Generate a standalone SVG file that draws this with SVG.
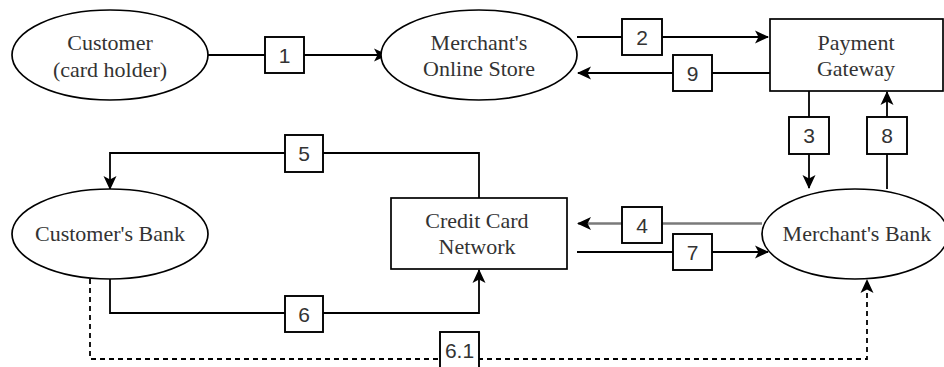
<svg xmlns="http://www.w3.org/2000/svg" width="944" height="367" viewBox="0 0 944 367">
  <defs>
    <marker id="arrow" viewBox="0 0 14 14" refX="13" refY="7" markerWidth="14" markerHeight="14" markerUnits="userSpaceOnUse" orient="auto">
      <path d="M0,0.5 L14,7 L0,13.5 L3.5,7 z" fill="#000"/>
    </marker>
    <style>
      .node { fill: #fff; stroke: #000; stroke-width: 1.7; }
      .label { font-family: "Liberation Serif", "Times New Roman", serif; font-size: 22px; fill: #333; text-anchor: middle; }
      .edge { fill: none; stroke: #000; stroke-width: 1.8; }
      .dashed { stroke-dasharray: 5 4; }
      .tag rect { fill: #fff; stroke: #000; stroke-width: 1.9; }
      .tag text { font-family: "Liberation Sans", Arial, sans-serif; font-size: 21px; fill: #333; text-anchor: middle; }
    </style>
  </defs>

  <rect width="944" height="367" fill="#fff"/>

  <!-- connectors -->
  <g id="connectors">
    <path id="e1" class="edge" d="M208,55 H387" marker-end="url(#arrow)"/>
    <path id="e2" class="edge" d="M577,37 H768" marker-end="url(#arrow)"/>
    <path id="e9" class="edge" d="M770,73 H578" marker-end="url(#arrow)"/>
    <path id="e3" class="edge" d="M809,91 V188" marker-end="url(#arrow)"/>
    <path id="e8" class="edge" d="M887,189 V92" marker-end="url(#arrow)"/>
    <path id="e4" class="edge" d="M762,223.5 H578" style="stroke:#7a7a7a;stroke-width:2.6" marker-end="url(#arrow)"/>
    <path id="e7" class="edge" d="M577,252 H768" marker-end="url(#arrow)"/>
    <path id="e5" class="edge" d="M479,198 V153 H110 V189" marker-end="url(#arrow)"/>
    <path id="e6" class="edge" d="M110,279 V313 H479 V270" marker-end="url(#arrow)"/>
    <path id="e61" class="edge dashed" d="M90,279 V359 H867 V280" marker-end="url(#arrow)"/>

    <g class="tag" id="t1"><rect x="265" y="37" width="39" height="36"/><text x="284.5" y="63">1</text></g>
    <g class="tag" id="t2"><rect x="622" y="19" width="40" height="36"/><text x="642" y="45">2</text></g>
    <g class="tag" id="t9"><rect x="673" y="55" width="39" height="36"/><text x="692.5" y="81">9</text></g>
    <g class="tag" id="t3"><rect x="789" y="117" width="40" height="37"/><text x="809" y="143">3</text></g>
    <g class="tag" id="t8"><rect x="867" y="117" width="40" height="37"/><text x="887" y="143">8</text></g>
    <g class="tag" id="t4"><rect x="622" y="207" width="40" height="36"/><text x="642" y="233">4</text></g>
    <g class="tag" id="t7"><rect x="673" y="234" width="39" height="36"/><text x="692.5" y="260">7</text></g>
    <g class="tag" id="t5"><rect x="285" y="135" width="38" height="37"/><text x="304" y="161">5</text></g>
    <g class="tag" id="t6"><rect x="285" y="296" width="38" height="36"/><text x="304" y="322">6</text></g>
    <g class="tag" id="t61"><rect x="440" y="332" width="39" height="38"/><text x="459.5" y="358">6.1</text></g>
  </g>

  <!-- nodes -->
  <g id="customer">
    <ellipse class="node" cx="110" cy="55" rx="98" ry="45"/>
    <text class="label" x="110" y="50">Customer</text>
    <text class="label" x="110" y="77">(card holder)</text>
  </g>
  <g id="online-store">
    <ellipse class="node" cx="479" cy="55" rx="98" ry="45"/>
    <text class="label" x="479" y="50">Merchant's</text>
    <text class="label" x="479" y="76">Online Store</text>
  </g>
  <g id="payment-gateway">
    <rect class="node" x="770" y="19" width="173" height="72"/>
    <text class="label" x="856" y="50">Payment</text>
    <text class="label" x="856" y="76">Gateway</text>
  </g>
  <g id="merchants-bank">
    <ellipse class="node" cx="855" cy="234" rx="93" ry="45"/>
    <text class="label" x="857" y="241">Merchant's Bank</text>
  </g>
  <g id="card-network">
    <rect class="node" x="391" y="198" width="176" height="71"/>
    <text class="label" x="477" y="228">Credit Card</text>
    <text class="label" x="477" y="254">Network</text>
  </g>
  <g id="customers-bank">
    <ellipse class="node" cx="110" cy="234" rx="98" ry="45"/>
    <text class="label" x="110" y="241">Customer's Bank</text>
  </g>
</svg>
